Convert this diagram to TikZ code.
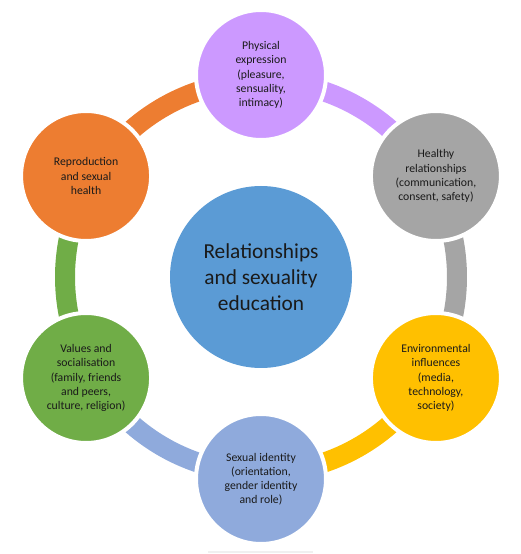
\documentclass[tikz,border=0pt]{standalone}
\usepackage{fontspec}
\setmainfont{Carlito}
\definecolor{cOrange}{HTML}{ED7D31}
\definecolor{cPurple}{HTML}{CC99FF}
\definecolor{cGray}{HTML}{A5A5A5}
\definecolor{cYellow}{HTML}{FFC000}
\definecolor{cGreen}{HTML}{70AD47}
\definecolor{cLBlue}{HTML}{8FAADC}
\definecolor{cBlue}{HTML}{5B9BD5}
\definecolor{cText}{HTML}{1A1A1A}
\begin{document}
\begin{tikzpicture}[x=0.75pt,y=0.75pt,
  item/.style={circle, draw=white, line width=3pt, minimum size=97.5pt, inner sep=0pt,
    align=center, text=cText, font=\fontsize{8.8}{10.6}\selectfont},
  hub/.style={circle, minimum size=136.5pt, inner sep=0pt, fill=cBlue,
    align=center, text=cText, font=\fontsize{16}{19.6}\selectfont},
  seg/.style={line width=15pt, line cap=butt}]
\useasboundingbox (0,0) rectangle (521,554);
\coordinate (C) at (261,277);
% ring segments
\draw[seg, cOrange] (C) ++(150:147pt) arc[start angle=150, end angle=107.5, radius=147pt];
\draw[seg, cPurple] (C) ++(90:147pt) arc[start angle=90, end angle=47.5, radius=147pt];
\draw[seg, cGray] (C) ++(30:147pt) arc[start angle=30, end angle=-12.5, radius=147pt];
\draw[seg, cYellow] (C) ++(-30:147pt) arc[start angle=-30, end angle=-72.5, radius=147pt];
\draw[seg, cLBlue] (C) ++(-90:147pt) arc[start angle=-90, end angle=-132.5, radius=147pt];
\draw[seg, cGreen] (C) ++(210:147pt) arc[start angle=210, end angle=167.5, radius=147pt];
% centre
\node[hub] (centre) at (C) {Relationships\\and sexuality\\education};
% outer items
\node[item, fill=cPurple] (phys) at ([shift={(90:151.5pt)}]C) {Physical\\expression\\(pleasure,\\sensuality,\\intimacy)};
\node[item, fill=cGray] (healthy) at ([shift={(30:151.5pt)}]C) {Healthy\\relationships\\(communication,\\consent, safety)};
\node[item, fill=cYellow] (env) at ([shift={(-30:151.5pt)}]C) {Environmental\\influences\\(media,\\technology,\\society)};
\node[item, fill=cLBlue] (ident) at ([shift={(-90:151.5pt)}]C) {Sexual identity\\(orientation,\\gender identity\\and role)};
\node[item, fill=cGreen] (values) at ([shift={(210:151.5pt)}]C) {Values and\\socialisation\\(family, friends\\and peers,\\culture, religion)};
\node[item, fill=cOrange] (repro) at ([shift={(150:151.5pt)}]C) {Reproduction\\and sexual\\health};
% faint line at bottom
\draw[gray!12, line width=0.8pt] (208,2) -- (313,2);
\end{tikzpicture}
\end{document}
